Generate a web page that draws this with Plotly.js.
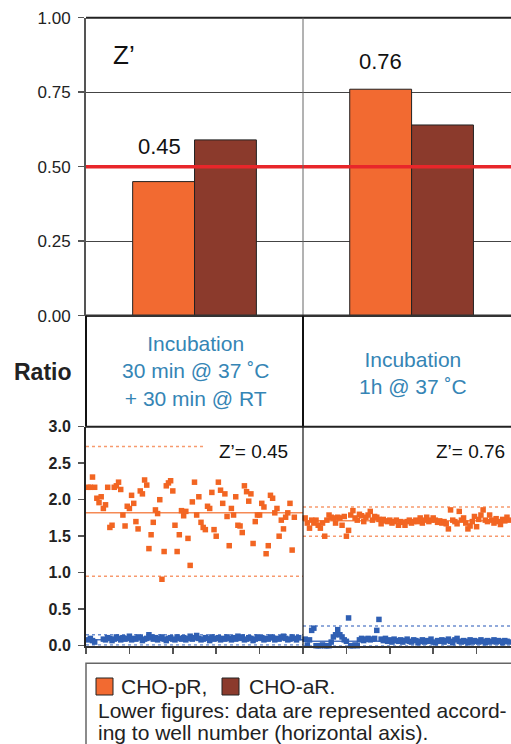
<!DOCTYPE html>
<html><head><meta charset="utf-8">
<script src="https://cdn.plot.ly/plotly-3.0.1.min.js"></script>
<style>html,body{margin:0;padding:0;background:#fff}#chart{width:511px;height:744px}</style>
</head><body><div id="chart"></div>
<script>
// ---- DATA ----
const conditions = ['30 min @ 37 ˚C + 30 min @ RT', '1h @ 37 ˚C'];
const zPR = [0.45, 0.76];
const zAR = [0.59, 0.64];
const zThreshold = 0.5;
const barTicks = [0, 0.25, 0.5, 0.75, 1.0];
const barTickText = ['0.00', '0.25', '0.50', '0.75', '1.00'];
const ratioTicks = [0, 0.5, 1, 1.5, 2, 2.5, 3];
const ratioTickText = ['0.0', '0.5', '1.0', '1.5', '2.0', '2.5', '3.0'];
const wellTicks = [0, 20, 40, 60, 80, 100, 120, 140, 160, 180];

const orangeLeft = [2.17,2.17,2.31,2.17,2.02,1.96,2.04,1.88,1.93,2.17,1.62,1.65,2.17,2.19,2.24,2.14,1.79,1.64,1.91,1.88,
  2.06,1.95,1.70,1.60,2.12,2.08,2.27,2.20,1.33,1.52,1.69,1.86,1.81,2.00,0.91,1.29,2.19,2.23,2.26,2.12,
  1.65,1.29,1.52,1.85,1.78,1.84,1.47,1.10,1.97,2.24,1.79,2.04,1.69,1.62,1.59,1.91,1.88,2.10,1.59,1.50,
  2.24,2.13,1.95,2.08,1.77,1.37,1.88,1.79,2.04,1.65,1.64,1.55,2.19,2.11,1.98,2.08,1.40,1.70,1.79,1.79,
  1.95,1.90,1.26,1.37,2.06,2.02,1.82,1.88,1.50,1.72,1.60,1.76,1.82,1.95,1.31,1.76];
const orangeRight = [1.75,1.68,1.61,1.72,1.68,1.72,1.65,1.61,1.68,1.50,1.72,1.79,1.76,1.75,1.68,1.76,1.75,1.65,1.77,1.50,
  1.58,1.79,1.85,1.75,1.72,1.80,1.78,1.70,1.76,1.79,1.84,1.72,1.77,1.76,1.73,1.67,1.73,1.71,1.70,1.72,
  1.68,1.70,1.72,1.65,1.70,1.69,1.65,1.70,1.72,1.68,1.70,1.72,1.70,1.75,1.68,1.72,1.76,1.70,1.72,1.75,
  1.72,1.69,1.71,1.68,1.70,1.67,1.60,1.86,1.72,1.70,1.67,1.84,1.72,1.75,1.68,1.60,1.64,1.70,1.77,1.63,
  1.73,1.79,1.86,1.72,1.70,1.79,1.72,1.68,1.74,1.70,1.66,1.73,1.71,1.76,1.72];
const blueLeft = [0.08,0.10,0.07,0.05,-0.02,-0.02,-0.01,0.09,0.08,0.11,0.10,0.07,0.09,0.12,0.10,0.08,0.11,0.09,0.10,0.13,
  0.08,0.10,0.09,0.12,0.11,0.07,0.09,0.10,0.15,0.12,0.09,0.11,0.08,0.10,0.12,0.09,0.07,0.10,0.11,0.09,
  0.08,0.12,0.10,0.09,0.11,0.08,0.10,0.13,0.09,0.11,0.14,0.10,0.08,0.09,0.11,0.10,0.07,0.12,0.09,0.10,
  0.11,0.08,0.10,0.09,0.12,0.10,0.08,0.11,0.09,0.13,0.10,0.12,0.08,0.09,0.11,0.10,0.07,0.09,0.12,0.10,
  0.11,0.08,0.10,0.09,0.12,0.11,0.08,0.10,0.09,0.11,0.13,0.10,0.08,0.09,0.12,0.10,0.08,0.11];
const blueRight = [0.09,0.01,0.08,0.21,0.24,0.00,0.00,0.00,0.01,0.00,0.00,0.00,0.05,0.12,0.15,0.22,0.15,0.12,0.08,0.06,
  0.38,0.00,0.00,0.01,0.00,0.08,0.10,0.07,0.09,0.10,0.08,0.09,0.10,0.21,0.36,0.09,0.07,0.10,0.06,0.08,
  0.05,0.09,0.07,0.06,0.08,0.05,0.07,0.09,0.06,0.05,0.08,0.07,0.04,0.06,0.08,0.05,0.07,0.06,0.09,0.05,
  0.04,0.07,0.06,0.08,0.05,0.07,0.09,0.06,0.04,0.08,0.10,0.06,0.05,0.07,0.06,0.04,0.08,0.05,0.07,0.06,
  0.05,0.08,0.06,0.04,0.07,0.05,0.06,0.08,0.05,0.07,0.06,0.04,0.07,0.06,0.05];
// summary lines per panel: mean, upper limit, lower limit
const orangeLeftStats = {mean: 1.82, hi: 2.73, lo: 0.95};
const orangeRightStats = {mean: 1.71, hi: 1.90, lo: 1.50};
const blueLeftStats = {mean: 0.08, hi: 0.15, lo: 0.01};
const blueRightStats = {mean: 0.06, hi: 0.27, lo: 0.00};
const zLabels = ['Z’= 0.45', 'Z’= 0.76'];

// ---- LAYOUT HELPERS ----
const W = 511, H = 744;
const PX = x => x / W, PY = y => 1 - y / H;
const FONT = 'Liberation Sans, Arial, sans-serif';
const ORANGE = '#f26a31', BROWN = '#8b3a2c';
const SC_OR = '#f26522', SC_BL = '#2f5fb3';
const panelSplit = 100, wellMax = (511 - 86) / 217 * 100;

const wellsL = orangeLeft.map((v, i) => i + 1);
const wellsR = orangeRight.map((v, i) => panelSplit + i + 1);
const wellsBL = blueLeft.map((v, i) => i + 1);
const wellsBR = blueRight.map((v, i) => panelSplit + i + 1);

const traces = [
  {type: 'bar', x: [0, 1], y: zPR, name: 'CHO-pR', marker: {color: ORANGE, line: {color: '#222', width: 1}}, xaxis: 'x', yaxis: 'y', showlegend: false, hoverinfo: 'none'},
  {type: 'bar', x: [0, 1], y: zAR, name: 'CHO-aR', marker: {color: BROWN, line: {color: '#222', width: 1}}, xaxis: 'x', yaxis: 'y', showlegend: false, hoverinfo: 'none'},
];
const mk = (x, y, c) => ({type: 'scatter', mode: 'markers', x, y, xaxis: 'x2', yaxis: 'y2', cliponaxis: false,
  marker: {symbol: 'square', size: 5.5, color: c}, showlegend: false, hoverinfo: 'none'});
traces.push(mk(wellsBL, blueLeft, SC_BL), mk(wellsBR, blueRight, SC_BL), mk(wellsL, orangeLeft, SC_OR), mk(wellsR, orangeRight, SC_OR));

const shapes = [];
const line = (x0, y0, x1, y1, color, width, dash, xref = 'paper', yref = 'paper', layer = 'above') =>
  shapes.push({type: 'line', xref, yref, x0, y0, x1, y1, layer, line: {color, width, dash: dash || 'solid'}});

// stat lines in scatter panel
function statLines(st, x0, x1, colMean, colDot, hiEnd) {
  line(x0, st.mean, x1, st.mean, colMean, 1.5, 'solid', 'x2', 'y2', 'below');
  line(x0, st.hi, hiEnd !== undefined ? hiEnd : x1, st.hi, colDot, 1.5, 'dot', 'x2', 'y2', 'below');
  line(x0, st.lo, x1, st.lo, colDot, 1.5, 'dot', 'x2', 'y2', 'below');
}
statLines(orangeLeftStats, 0, panelSplit, '#f58a55', '#f79a6e', (204 - 86) / 217 * 100);
statLines(orangeRightStats, panelSplit, wellMax, '#f58a55', '#f79a6e');
statLines(blueLeftStats, 0, panelSplit, '#4a72c0', '#6d8fd0');
statLines(blueRightStats, panelSplit, wellMax, '#4a72c0', '#6d8fd0');

// threshold line
line(PX(86), zThreshold, 1, zThreshold, '#e8262a', 3.5, 'solid', 'paper', 'y');
// frame lines
line(PX(86), PY(17.7), 1, PY(17.7), '#222', 2);          // top of bar panel
line(PX(303), PY(17.7), PX(303), PY(315.7), '#666', 1);  // bar divider
line(PX(86), PY(315.7), 1, PY(315.7), '#333', 2.5);      // bar x axis
line(PX(303), PY(315.7), PX(303), PY(426.7), '#111', 2); // middle divider
line(PX(86), PY(315.7), PX(86), PY(426.7), '#111', 2);   // middle left
line(PX(86), PY(426.7), 1, PY(426.7), '#222', 2);        // scatter top
line(PX(303), PY(426.7), PX(303), PY(645.7), '#111', 1.2); // scatter divider
// legend box
shapes.push({type: 'rect', xref: 'paper', yref: 'paper', x0: PX(86), x1: PX(530), y0: PY(663.3), y1: PY(760), line: {color: '#666', width: 1.5}});
shapes.push({type: 'rect', xref: 'paper', yref: 'paper', x0: PX(96), x1: PX(113), y0: PY(695), y1: PY(678), fillcolor: ORANGE, line: {color: '#222', width: 1}});
shapes.push({type: 'rect', xref: 'paper', yref: 'paper', x0: PX(222), x1: PX(239), y0: PY(695), y1: PY(678), fillcolor: BROWN, line: {color: '#222', width: 1}});

const ann = (text, x, y, size, color, opts = {}) => Object.assign({text, x: PX(x), y: PY(y), xref: 'paper', yref: 'paper', showarrow: false,
  xanchor: 'center', yanchor: 'middle', font: {family: FONT, size, color}}, opts);
const BLUE_TXT = '#3585b5';
const annotations = [
  ann('Z’', 124, 55, 26, '#111'),
  ann(zPR[0].toFixed(2), 159, 146, 22, '#111'),
  ann(zPR[1].toFixed(2), 380, 61, 22, '#111'),
  ann('Incubation<br>30 min @ 37 ˚C<br>+ 30 min @ RT', 195, 371, 21, BLUE_TXT),
  ann('Incubation<br>1h @ 37 ˚C', 413, 373, 21, BLUE_TXT),
  ann('<b>Ratio</b>', 43, 372, 23, '#222'),
  ann(zLabels[0], 253, 451, 19, '#111'),
  ann(zLabels[1], 470, 451, 19, '#111'),
  ann('CHO-pR,', 119, 686, 21, '#222', {xanchor: 'left'}),
  ann('CHO-aR.', 247, 686, 21, '#222', {xanchor: 'left'}),
  ann('Lower figures: data are represented accord-', 96, 710, 21, '#222', {xanchor: 'left'}),
  ann('ing to well number (horizontal axis).', 96, 732, 21, '#222', {xanchor: 'left'}),
];

const layout = {
  width: W, height: H, margin: {l: 0, r: 0, t: 0, b: 0}, paper_bgcolor: '#fff', plot_bgcolor: 'rgba(0,0,0,0)',
  barmode: 'group', bargap: 0.43, bargroupgap: 0, showlegend: false, font: {family: FONT},
  xaxis: {domain: [PX(86), 1], range: [-0.5, 1.458], showticklabels: false, showgrid: false, zeroline: false, showline: false, fixedrange: true},
  yaxis: {domain: [PY(315.7), PY(17.7)], range: [0, 1], tickvals: barTicks, ticktext: barTickText, ticks: 'outside', ticklen: 6, tickcolor: '#555', tickwidth: 1.5,
    showline: true, linecolor: '#555', linewidth: 2, showgrid: true, gridcolor: '#444', gridwidth: 1, zeroline: false,
    tickfont: {family: FONT, size: 17, color: '#222'}, ticklabelstandoff: 4, fixedrange: true},
  xaxis2: {anchor: 'y2', domain: [PX(86), 1], range: [0, wellMax], tickvals: wellTicks, ticks: 'outside', ticklen: 6, tickcolor: '#555', tickwidth: 1.5,
    showticklabels: false, showgrid: false, zeroline: false, showline: true, linecolor: '#333', linewidth: 2, fixedrange: true},
  yaxis2: {anchor: 'x2', domain: [PY(645.7), PY(426.7)], range: [0, 3], tickvals: ratioTicks, ticktext: ratioTickText, ticks: 'outside', ticklen: 6, tickcolor: '#555', tickwidth: 1.5,
    showline: true, linecolor: '#222', linewidth: 2, showgrid: false, zeroline: false,
    tickfont: {family: FONT, size: 16, color: '#222', weight: 'bold'}, ticklabelstandoff: 4, fixedrange: true},
  shapes, annotations,
};
Plotly.newPlot('chart', traces, layout, {staticPlot: true, displayModeBar: false});
</script></body></html>
